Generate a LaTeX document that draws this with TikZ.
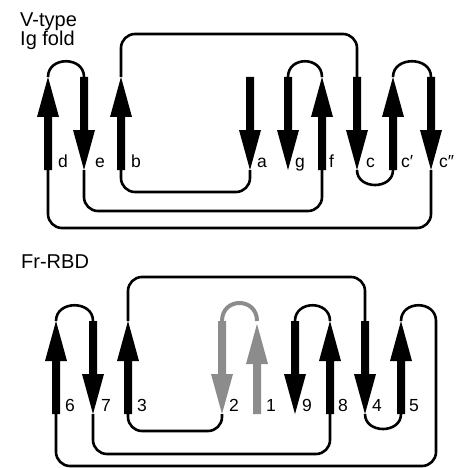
\documentclass[tikz,border=0pt]{standalone}
\usepackage{fontspec}
\setmainfont{Liberation Sans}
\newcommand{\dnstrand}[4][black]{% x, top, tip
  \fill[#1] (#2-4,#3) -- (#2-4,#4-40) -- (#2-11,#4-40) -- (#2,#4) -- (#2+11,#4-40) -- (#2+4,#4-40) -- (#2+4,#3) -- cycle;}
\newcommand{\upstrand}[4][black]{% x, bottom, tip
  \fill[#1] (#2-4,#3) -- (#2-4,#4+40) -- (#2-11,#4+40) -- (#2,#4) -- (#2+11,#4+40) -- (#2+4,#4+40) -- (#2+4,#3) -- cycle;}
\begin{document}
\begin{tikzpicture}[x=1pt,y=-1pt,
  loopline/.style={line width=2.6pt,rounded corners=14pt},
  grayline/.style={line width=4pt,draw=black!45},
  lbl/.style={anchor=base west,inner sep=0pt,font=\fontsize{17.5}{20}\selectfont},
  ttl/.style={anchor=base west,inner sep=0pt,font=\fontsize{20}{23}\selectfont}]
\useasboundingbox (0,0) rectangle (464,468);
% ---------- titles
\node[ttl] (t1) at (20,27) {V-type};
\node[ttl] (t2) at (20,46) {Ig fold};
\node[ttl] (t3) at (21,268) {Fr-RBD};
% ---------- top diagram strand ends
\foreach \n/\x in {d/48,e/84,b/121,a/250,g/288,f/322,c/357,cp/393,cpp/431}{
  \coordinate (\n N) at (\x,77);
  \coordinate (\n S) at (\x,170);
}
\upstrand{48}{170}{77}
\dnstrand{84}{77}{170}
\upstrand{121}{170}{77}
\dnstrand{250}{77}{170}
\dnstrand{288}{77}{170}
\upstrand{322}{170}{77}
\dnstrand{357}{77}{170}
\upstrand{393}{170}{77}
\dnstrand{431}{77}{170}
% connectors
\draw[loopline] (dN) .. controls +(0,-21) and +(0,-21) .. (eN);
\draw[loopline] (gN) .. controls +(0,-21) and +(0,-21) .. (fN);
\draw[loopline] (cpN) .. controls +(0,-21) and +(0,-21) .. (cppN);
\draw[loopline] (cS) .. controls +(0,20) and +(0,20) .. (cpS);
\draw[loopline] (bN) -- (121,34) -- (357,34) -- (cN);
\draw[loopline] (aS) -- (250,192) -- (121,192) -- (bS);
\draw[loopline] (eS) -- (84,211) -- (322,211) -- (fS);
\draw[loopline] (dS) -- (48,228) -- (431,228) -- (cppS);
% labels
\node[lbl] (ld) at (58,167) {d};
\node[lbl] (le) at (95,167) {e};
\node[lbl] (lb) at (131,167) {b};
\node[lbl] (la) at (257,167) {a};
\node[lbl] (lg) at (295,167) {g};
\node[lbl] (lf) at (329,167) {f};
\node[lbl] (lc) at (366,167) {c};
\node[lbl] (lcp) at (401,167) {c′};
\node[lbl] (lcpp) at (439,167) {c″};
% ---------- bottom diagram strand ends
\foreach \n/\x in {s6/56,s7/93,s3/128,s2/222,s1/257,s9/295,s8/330,s4/365,s5/401,r/436}{
  \coordinate (\n N) at (\x,321);
  \coordinate (\n S) at (\x,414);
}
\upstrand{56}{414}{321}
\dnstrand{93}{321}{414}
\upstrand{128}{414}{321}
\dnstrand[black!45]{222}{321}{414}
\upstrand[black!45]{257}{414}{324}
\dnstrand{295}{321}{414}
\upstrand{330}{414}{321}
\dnstrand{365}{321}{414}
\upstrand{401}{414}{321}
% connectors
\draw[loopline] (s6N) .. controls +(0,-21) and +(0,-21) .. (s7N);
\draw[grayline] (s2N) .. controls +(0,-24) and +(0,-24) .. (s1N);
\draw[loopline] (s9N) .. controls +(0,-21) and +(0,-21) .. (s8N);
\draw[loopline] (s5N) .. controls +(0,-21) and +(0,-21) .. (rN);
\draw[loopline] (s4S) .. controls +(0,20) and +(0,20) .. (s5S);
\draw[loopline] (s3N) -- (128,277) -- (365,277) -- (s4N);
\draw[loopline] (s3S) -- (128,431) -- (222,431) -- (s2S);
\draw[loopline] (s7S) -- (93,454) -- (330,454) -- (s8S);
\draw[loopline] (rN) -- (436,466) -- (56,466) -- (s6S);
% labels
\node[lbl] (l6) at (65,411) {6};
\node[lbl] (l7) at (101,411) {7};
\node[lbl] (l3) at (137,411) {3};
\node[lbl] (l2) at (229,411) {2};
\node[lbl] (l1) at (266,411) {1};
\node[lbl] (l9) at (302,411) {9};
\node[lbl] (l8) at (338,411) {8};
\node[lbl] (l4) at (372,411) {4};
\node[lbl] (l5) at (409,411) {5};
\end{tikzpicture}
\end{document}
